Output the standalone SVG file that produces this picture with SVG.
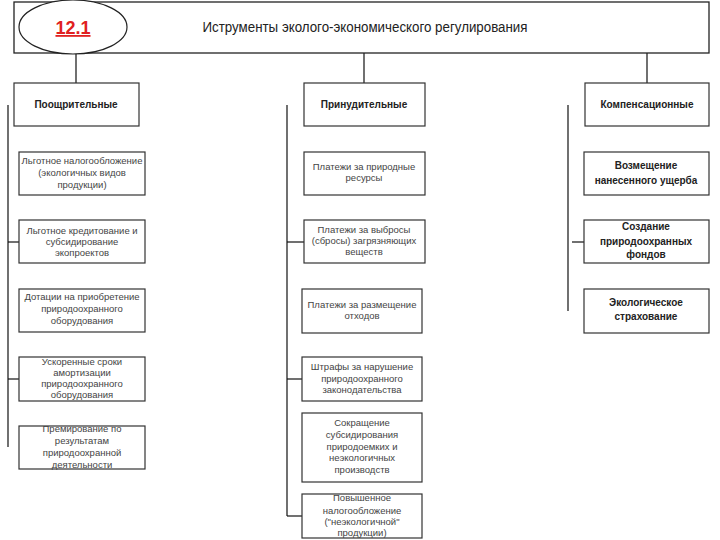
<svg xmlns="http://www.w3.org/2000/svg" width="720" height="540" viewBox="0 0 720 540">
<style>
.box{fill:#fff;stroke:#333;stroke-width:1.2}
.ln{stroke:#111;stroke-width:1.2;fill:none}
.t{font-family:"Liberation Sans",Arial,sans-serif;font-size:9.5px;fill:#444;text-anchor:middle}
.c{font-family:"Liberation Sans",Arial,sans-serif;font-size:10px;font-weight:bold;fill:#222;text-anchor:middle}
.b{font-family:"Liberation Sans",Arial,sans-serif;font-size:10px;font-weight:bold;fill:#222;text-anchor:middle}
</style>
<rect width="720" height="540" fill="#fff"/>
<g id="connectors">
<line class="ln" x1="76" y1="53" x2="76" y2="83"/>
<line class="ln" x1="364" y1="53" x2="364" y2="96"/>
<line class="ln" x1="647" y1="53" x2="647" y2="83"/>
<line class="ln" x1="8" y1="105" x2="8" y2="447"/>
<line class="ln" x1="8" y1="242" x2="19" y2="242"/>
<line class="ln" x1="8" y1="379" x2="19" y2="379"/>
<line class="ln" x1="19" y1="447" x2="22" y2="447"/>
<line class="ln" x1="287" y1="105" x2="287" y2="516"/>
<line class="ln" x1="287" y1="242" x2="304" y2="242"/>
<line class="ln" x1="287" y1="379" x2="302" y2="379"/>
<line class="ln" x1="287" y1="516" x2="302" y2="516"/>
<line class="ln" x1="568" y1="105" x2="568" y2="311"/>
<line class="ln" x1="572" y1="242" x2="584" y2="242"/>
</g>
<g id="title">
<rect x="14" y="2" width="695" height="51" fill="#fff" stroke="#222" stroke-width="1.3"/>
<ellipse cx="73" cy="27" rx="54" ry="27" fill="#fff" stroke="#222" stroke-width="1.2"/>
<text x="73" y="34" font-family="'Liberation Sans',Arial,sans-serif" font-size="18" font-weight="bold" fill="#e02020" text-anchor="middle" text-decoration="underline">12.1</text>
<text x="365" y="32" font-family="'Liberation Sans',Arial,sans-serif" font-size="14" fill="#222" text-anchor="middle" textLength="325" lengthAdjust="spacingAndGlyphs">Иструменты эколого-экономического регулирования</text>
</g>
<g id="cat1"><rect class="box" x="14" y="83" width="125" height="43"/><text class="c" x="76" y="108">Поощрительные</text></g>
<g id="cat2"><rect class="box" x="304" y="83" width="121" height="43"/><text class="c" x="364" y="108">Принудительные</text></g>
<g id="cat3"><rect class="box" x="585" y="83" width="124" height="43"/><text class="c" x="647" y="108">Компенсационные</text></g>

<g id="l1"><rect class="box" x="19" y="152" width="126" height="43"/><text class="t" x="82" y="164">Льготное налогообложение</text><text class="t" x="82" y="176">(экологичных видов</text><text class="t" x="82" y="188">продукции)</text></g>
<g id="l2"><rect class="box" x="19" y="220" width="126" height="43"/><text class="t" x="82" y="234">Льготное кредитование и</text><text class="t" x="82" y="245">субсидирование</text><text class="t" x="82" y="256">экопроектов</text></g>
<g id="l3"><rect class="box" x="19" y="289" width="126" height="43"/><text class="t" x="82" y="300">Дотации на приобретение</text><text class="t" x="82" y="312">природоохранного</text><text class="t" x="82" y="324">оборудования</text></g>
<g id="l4"><rect class="box" x="19" y="357" width="126" height="44"/><text class="t" x="82" y="365">Ускоренные сроки</text><text class="t" x="82" y="376">амортизации</text><text class="t" x="82" y="387">природоохранного</text><text class="t" x="82" y="398">оборудования</text></g>
<g id="l5"><rect class="box" x="19" y="426" width="126" height="43"/><text class="t" x="82" y="432">Премирование по</text><text class="t" x="82" y="444">результатам</text><text class="t" x="82" y="456">природоохранной</text><text class="t" x="82" y="468">деятельности</text></g>

<g id="m1"><rect class="box" x="304" y="152" width="121" height="43"/><text class="t" x="364" y="170">Платежи за природные</text><text class="t" x="364" y="181">ресурсы</text></g>
<g id="m2"><rect class="box" x="304" y="220" width="121" height="43"/><text class="t" x="364" y="233">Платежи за выбросы</text><text class="t" x="364" y="244">(сбросы) загрязняющих</text><text class="t" x="364" y="255">веществ</text></g>
<g id="m3"><rect class="box" x="302" y="289" width="120" height="44"/><text class="t" x="362" y="308">Платежи за размещение</text><text class="t" x="362" y="319">отходов</text></g>
<g id="m4"><rect class="box" x="302" y="357" width="120" height="44"/><text class="t" x="362" y="370">Штрафы за нарушение</text><text class="t" x="362" y="382">природоохранного</text><text class="t" x="362" y="393">законодательства</text></g>
<g id="m5"><rect class="box" x="302" y="413" width="120" height="69"/><text class="t" x="362" y="426">Сокращение</text><text class="t" x="362" y="438">субсидирования</text><text class="t" x="362" y="450">природоемких и</text><text class="t" x="362" y="461">неэкологичных</text><text class="t" x="362" y="473">производств</text></g>
<g id="m6"><rect class="box" x="302" y="494" width="120" height="44"/><text class="t" x="362" y="501">Повышенное</text><text class="t" x="362" y="514">налогообложение</text><text class="t" x="362" y="525">("неэкологичной"</text><text class="t" x="362" y="536">продукции)</text></g>

<g id="r1"><rect class="box" x="584" y="152" width="125" height="43"/><text class="b" x="646" y="169">Возмещение</text><text class="b" x="646" y="184">нанесенного ущерба</text></g>
<g id="r2"><rect class="box" x="584" y="220" width="125" height="43"/><text class="b" x="646" y="230">Создание</text><text class="b" x="646" y="245">природоохранных</text><text class="b" x="646" y="258">фондов</text></g>
<g id="r3"><rect class="box" x="584" y="289" width="125" height="44"/><text class="b" x="646" y="306">Экологическое</text><text class="b" x="646" y="320">страхование</text></g>
</svg>
